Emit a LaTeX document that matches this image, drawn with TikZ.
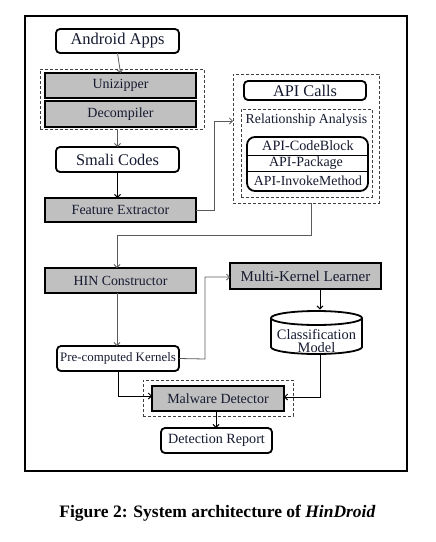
\documentclass[tikz,border=0pt]{standalone}
\usepackage{fontspec}
\setmainfont{Liberation Serif}
\usetikzlibrary{arrows.meta}
\definecolor{txt}{RGB}{22,26,48}
\definecolor{boxgray}{RGB}{192,192,192}
\definecolor{linegray}{RGB}{90,90,90}
\tikzset{
  base/.style={inner sep=0pt, outer sep=0pt, text=txt, align=center},
  graybox/.style={base, draw=black, line width=1.8pt, fill=boxgray},
  roundbox/.style={base, draw=black, line width=1.8pt, fill=white, rounded corners=4pt},
  dashbox/.style={base, draw=black!75, line width=0.7pt, dash pattern=on 3pt off 2pt},
  conn/.style={line width=0.8pt, draw=linegray, -{Straight Barb[length=3pt,width=6pt]}},
  connb/.style={line width=0.9pt, draw=black, -{Straight Barb[length=3pt,width=6pt]}},
}
\begin{document}
\begin{tikzpicture}[x=1pt,y=-1pt]
\useasboundingbox (0,0) rectangle (436,542);
% outer frame
\draw[line width=1.6pt] (25,16) rectangle (407,471);

% left column
\node[roundbox, minimum width=123pt, minimum height=24pt, font=\fontsize{16.5}{18}\selectfont] (android) at (117.5,41) {Android Apps};
\node[dashbox, minimum width=164pt, minimum height=60pt] (prep) at (122,99) {};
\node[graybox, minimum width=151pt, minimum height=25pt, font=\fontsize{14}{16}\selectfont] (unzip) at (120.5,85.5) {Unizipper};
\node[graybox, minimum width=151pt, minimum height=26pt, font=\fontsize{14}{16}\selectfont] (decomp) at (120.5,114) {Decompiler};
\node[roundbox, minimum width=123pt, minimum height=25pt, font=\fontsize{16.3}{18}\selectfont] (smali) at (117.5,159.5) {Smali Codes};
\node[graybox, minimum width=151pt, minimum height=24pt, font=\fontsize{14}{16}\selectfont] (feat) at (120.5,210) {Feature Extractor};

% right API block
\node[dashbox, minimum width=146pt, minimum height=129pt] (apibox) at (306,138.5) {};
\node[roundbox, minimum width=122pt, minimum height=19pt, font=\fontsize{16.3}{18}\selectfont] (apicalls) at (305,90.5) {API Calls};
\node[dashbox, minimum width=131pt, minimum height=88pt] (ra) at (306.5,153) {};
\node[base, font=\fontsize{13.8}{16}\selectfont] (ralabel) at (306.5,120) {Relationship Analysis};
\node[roundbox, rounded corners=8pt, minimum width=121pt, minimum height=54pt] (list) at (307.5,164) {};
\draw[line width=1pt] (247,155.5) -- (368,155.5);
\draw[line width=1pt] (247,171) -- (368,171);
\node[base, font=\fontsize{14.2}{16}\selectfont] (r1) at (308,146) {API-CodeBlock};
\node[base, font=\fontsize{14}{16}\selectfont] (r2) at (306,163) {API-Package};
\node[base, font=\fontsize{13.8}{16}\selectfont] (r3) at (308,181) {API-InvokeMethod};

% lower part
\node[graybox, minimum width=151pt, minimum height=25pt, font=\fontsize{13.9}{16}\selectfont] (hin) at (120.5,280.5) {HIN Constructor};
\node[graybox, minimum width=151pt, minimum height=26pt, font=\fontsize{15}{17}\selectfont] (mkl) at (305.5,276) {Multi-Kernel Learner};
\node[roundbox, minimum width=122pt, minimum height=25pt, font=\fontsize{12.9}{15}\selectfont] (pck) at (118,358.5) {Pre-computed Kernels};

% cylinder
\node[base, minimum width=91pt, minimum height=43pt] (cyl) at (316.5,332.5) {};
\draw[line width=1.8pt, fill=white] (271,318) -- (271,347) arc[start angle=180, end angle=360, x radius=45.5, y radius=-7] -- (362,318);
\draw[line width=1.8pt] (316.5,318) ellipse[x radius=45.5, y radius=7];
\node[base, font=\fontsize{14.4}{13}\selectfont] (cyltext) at (316.5,341) {Classification\\Model};

\node[dashbox, minimum width=150pt, minimum height=36pt] (mddash) at (218,398) {};
\node[graybox, minimum width=132pt, minimum height=25pt, font=\fontsize{14}{16}\selectfont] (md) at (218,398.5) {Malware Detector};
\node[roundbox, minimum width=111pt, minimum height=25pt, font=\fontsize{14.1}{16}\selectfont] (dr) at (216.5,440.5) {Detection Report};

% connectors
\draw[conn] (android.south) -- (unzip.north);
\draw[conn] (prep.south -| smali) -- (smali.north);
\draw[connb] (smali.south) -- (smali.south |- feat.north);
\coordinate (fe1) at (214,210);
\coordinate (fe2) at (214,121);
\draw[conn] (feat.east) -- (fe1) -- (fe2) -- (fe2 -| apibox.west);
\coordinate (ra1) at (311,235);
\coordinate (ra2) at (117,235);
\draw[conn] (ra1 |- apibox.south) -- (ra1) -- (ra2) -- (ra2 |- hin.north);
\draw[conn] (ra2 |- hin.south) -- (ra2 |- pck.north);
\coordinate (pk1) at (205,359);
\coordinate (pk2) at (205,277);
\draw[conn] (pck.east) -- (pk1) -- (pk2) -- (pk2 -| mkl.west);
\coordinate (mk1) at (320,289);
\draw[connb] (mk1 |- mkl.south) -- (320,309.5);
\coordinate (pd1) at (118,396);
\draw[connb] (pd1 |- pck.south) -- (pd1) -- (pd1 -| md.west);
\coordinate (cd1) at (320,397);
\draw[connb] (320,354) -- (cd1) -- (cd1 -| md.east);
\coordinate (md1) at (216,411);
\draw[connb] (md1 |- md.south) -- (md1 |- dr.north);

% caption
\node[base, text=black, font=\fontsize{17.5}{20}\selectfont\bfseries] (caption) at (217.5,513) {Figure 2: System architecture of \textit{HinDroid}};
\end{tikzpicture}
\end{document}
